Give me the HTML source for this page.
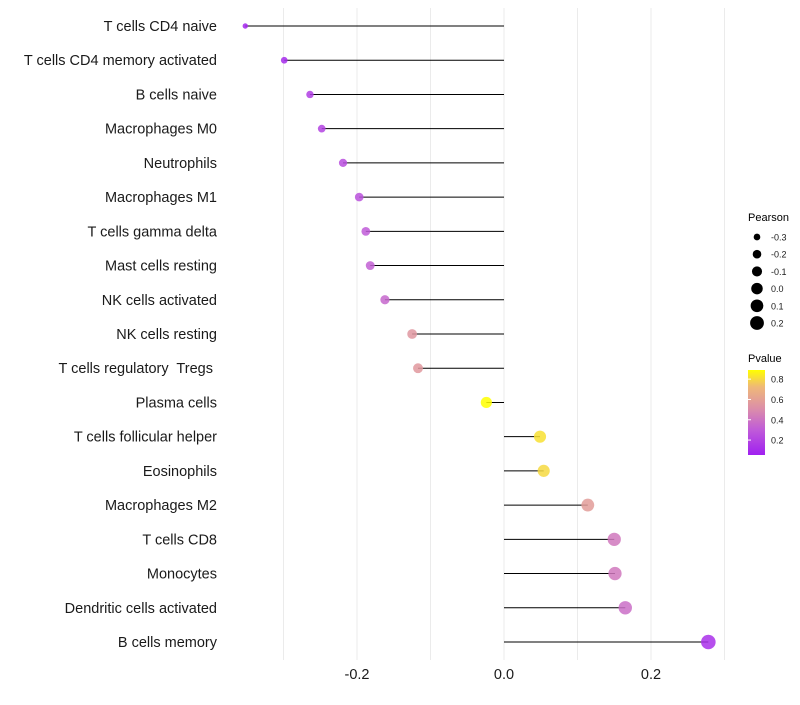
<!DOCTYPE html>
<html><head><meta charset="utf-8"><style>
html,body{margin:0;padding:0;background:#fff;}
svg text{font-family:"Liberation Sans",sans-serif;white-space:pre;}
</style></head><body>
<svg id="chart" width="800" height="700" xmlns="http://www.w3.org/2000/svg">
<g id="grid"></g>
<g id="marks"></g>
<g id="ylabels"></g>
<g id="xlabels"></g>
<g id="legend">
<defs><linearGradient id="pg" x1="0" y1="1" x2="0" y2="0">
<stop offset="0" stop-color="#a020f0"/><stop offset="0.3" stop-color="#c05cd8"/><stop offset="0.55" stop-color="#dc8fa8"/><stop offset="0.8" stop-color="#efb878"/><stop offset="1" stop-color="#ffff00"/></linearGradient></defs>
<text x="748" y="221" font-size="11">Pearson</text>
<g id="sizeleg"></g>
<text x="748" y="362" font-size="11">Pvalue</text>
<rect x="748" y="370" width="17" height="85" fill="url(#pg)"/>
<g id="colleg"></g>
</g>
</svg>
<script>
const categories=["T cells CD4 naive","T cells CD4 memory activated","B cells naive","Macrophages M0","Neutrophils","Macrophages M1","T cells gamma delta","Mast cells resting","NK cells activated","NK cells resting","T cells regulatory  Tregs ","Plasma cells","T cells follicular helper","Eosinophils","Macrophages M2","T cells CD8","Monocytes","Dendritic cells activated","B cells memory"];
const pearson=[-0.352,-0.299,-0.264,-0.248,-0.219,-0.197,-0.188,-0.182,-0.162,-0.125,-0.117,-0.024,0.049,0.054,0.114,0.150,0.151,0.165,0.278];
const pvalue=[0.08,0.1,0.18,0.2,0.24,0.26,0.3,0.32,0.35,0.55,0.56,0.9,0.82,0.8,0.58,0.42,0.42,0.38,0.12];
const xTicks=[-0.2,0.0,0.2];
const xTickLabels=["-0.2","0.0","0.2"];
const sizeLegendValues=[-0.3,-0.2,-0.1,0.0,0.1,0.2];
const colorTicks=[0.2,0.4,0.6,0.8];
const NS="http://www.w3.org/2000/svg";
function xs(v){return 504+v*735;}
function ys(i){return 26+i*(616/18);}
function rs(v){return Math.sqrt(Math.max(2,33+73*v));}
function cy(p){return 455-(p-0.053)/(0.89-0.053)*85;}
function lerp(a,b,t){return a+(b-a)*t;}
const stops=[[0,[160,32,240]],[0.3,[192,92,216]],[0.55,[220,143,168]],[0.8,[239,184,120]],[1,[255,255,0]]];
function col(p){let t=Math.min(1,Math.max(0,(p-0.053)/(0.89-0.053)));for(let k=1;k<stops.length;k++){if(t<=stops[k][0]){const a=stops[k-1],b=stops[k];const u=(t-a[0])/(b[0]-a[0]);return `rgb(${a[1].map((c,j)=>Math.round(lerp(c,b[1][j],u))).join(',')})`;}}return 'rgb(255,255,0)';}
function el(t,at,p){const e=document.createElementNS(NS,t);for(const k in at)e.setAttribute(k,at[k]);p.appendChild(e);return e;}
const grid=document.getElementById('grid');
for(let v=-0.3;v<=0.31;v+=0.1){const g=el('line',{x1:xs(v),x2:xs(v),y1:8,y2:660,stroke:'#ebebeb','stroke-width':1},grid);

}
const marks=document.getElementById('marks'),yl=document.getElementById('ylabels');
categories.forEach((c,i)=>{const y=ys(i);
const l=el('line',{x1:xs(pearson[i]),x2:xs(0),y1:y,y2:y,stroke:'#000','stroke-width':1},marks);


const d=el('circle',{cx:xs(pearson[i]),cy:y,r:rs(pearson[i]),fill:col(pvalue[i]),'fill-opacity':0.85},marks);


const t=el('text',{x:217,y:y+5,'text-anchor':'end','font-size':14.5,fill:'#1a1a1a'},yl);t.textContent=c;

});
const xl=document.getElementById('xlabels');
xTicks.forEach((v,i)=>{const t=el('text',{x:xs(v),y:679,'text-anchor':'middle','font-size':14.5,fill:'#1a1a1a'},xl);t.textContent=xTickLabels[i];

});
const sl=document.getElementById('sizeleg');
sizeLegendValues.forEach((v,i)=>{const y=237+i*17.2;
const c=el('circle',{cx:757,cy:y,r:rs(v),fill:'#000'},sl);


const t=el('text',{x:771,y:y+3.5,'font-size':9,fill:'#1a1a1a'},sl);t.textContent=v.toFixed(1);

});
const cl=document.getElementById('colleg');
colorTicks.forEach(v=>{const y=cy(v);
const a=el('line',{x1:748,x2:751,y1:y,y2:y,stroke:'#fff'},cl);


const t=el('text',{x:771,y:y+3.5,'font-size':9,fill:'#1a1a1a'},cl);t.textContent=v.toFixed(1);

});
</script>
</body></html>
